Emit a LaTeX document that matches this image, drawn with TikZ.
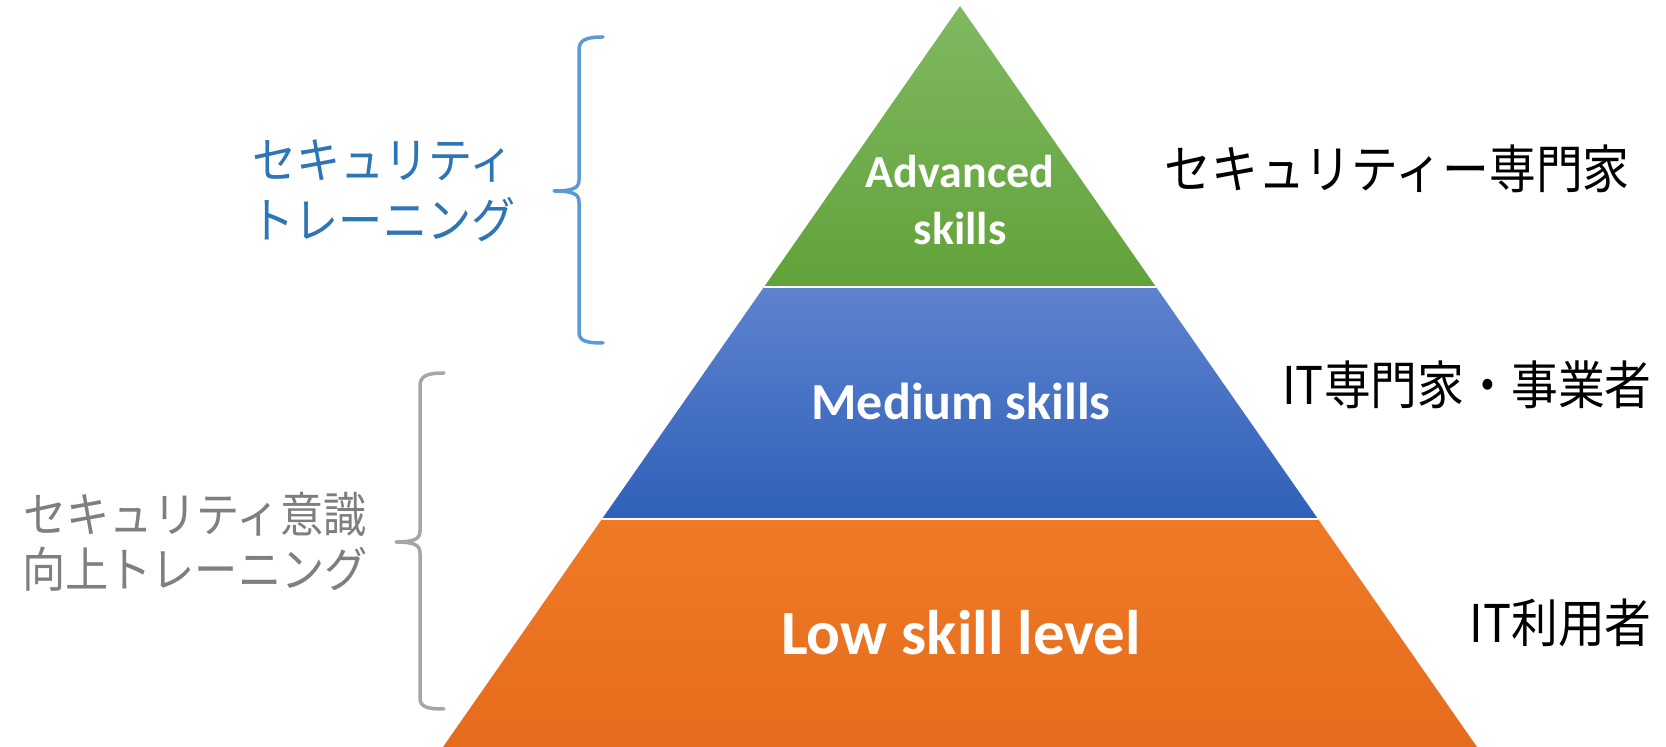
\documentclass[tikz,border=0pt]{standalone}
\usepackage{fontspec}
\setmainfont{Carlito}
\newfontfamily\jpfont[FakeStretch=0.9]{Noto Sans CJK JP}
\usepackage{xcolor}
\usepackage{tikz}
\usetikzlibrary{positioning}

\definecolor{greentop}{HTML}{80B961}
\definecolor{greenbot}{HTML}{61A239}
\definecolor{bluetop}{HTML}{5E83CE}
\definecolor{bluebot}{HTML}{2F60B8}
\definecolor{orangetop}{HTML}{EF7A26}
\definecolor{orangebot}{HTML}{E56C1C}
\definecolor{trainblue}{HTML}{2E75B6}
\definecolor{bracelight}{HTML}{5B9BD5}
\definecolor{awaregray}{HTML}{7F7F7F}
\definecolor{bracegray}{HTML}{A6A6A6}

\begin{document}
\begin{tikzpicture}[x=0.5pt, y=-0.5pt,
    layertext/.style={text=white, inner sep=0pt, font=\bfseries\fontsize{#1}{#1}\selectfont},
    jplabel/.style 2 args={inner sep=0pt, font=\jpfont\fontsize{#1}{#2}\selectfont},
    bracket/.style={line width=1.75pt, line cap=round, line join=round}]
    % Nền trắng
    \fill[white] (0,0) rectangle (1666,747);
    \useasboundingbox (0,0) rectangle (1666,747);

    % Các đỉnh của kim tự tháp
    \coordinate (apex) at (960,6);
    \coordinate (gl) at (764,287);  \coordinate (gr) at (1156,287);
    \coordinate (bl) at (602,519);  \coordinate (br) at (1318,519);
    \coordinate (baseL) at (443,747); \coordinate (baseR) at (1477,747);

    % Ba tầng
    \shade[top color=greentop, bottom color=greenbot] (apex) -- (gr) -- (gl) -- cycle;
    \shade[top color=bluetop, bottom color=bluebot] (gl) -- (gr) -- (br) -- (bl) -- cycle;
    \shade[top color=orangetop, bottom color=orangebot] (bl) -- (br) -- (baseR) -- (baseL) -- cycle;
    \draw[white, line width=1pt] (gl) -- (gr) (bl) -- (br);

    % Chữ trong các tầng
    \node[layertext=23, anchor=base] (adv) at (960,188) {Advanced};
    \node[layertext=23, anchor=base] (advskills) at (960,245) {skills};
    \node[layertext=26, anchor=base] (medium) at (961,420) {Medium skills};
    \node[layertext=31.5, anchor=base] (low) at (961,655) {Low skill level};

    % Nhãn bên phải
    \node[jplabel={26}{26}, anchor=east] (expert) at (1630,169) {セキュリティー専門家};
    \node[jplabel={26}{26}, anchor=east] (itpro) at (1652,385) {IT専門家・事業者};
    \node[jplabel={26}{26}, anchor=east] (ituser) at (1652,623) {IT利用者};

    % Ngoặc và nhãn bên trái
    \draw[bracket, bracelight] (603,37) .. controls (586,37) and (579,40) .. (579,50)
        -- (579,180) .. controls (579,188) and (573,191) .. (554,191)
        .. controls (573,191) and (579,194) .. (579,202)
        -- (579,332) .. controls (579,341) and (586,343) .. (603,343);
    \node[jplabel={24.5}{30}, text=trainblue, align=center] (sectrain) at (383,191)
        {セキュリティ\\トレーニング};

    \draw[bracket, bracegray] (444,373) .. controls (427,373) and (420,376) .. (420,386)
        -- (420,531) .. controls (420,539) and (414,542) .. (396,542)
        .. controls (414,542) and (420,545) .. (420,553)
        -- (420,698) .. controls (420,707) and (427,709) .. (444,709);
    \node[jplabel={24}{27.5}, text=awaregray, align=center] (awaretrain) at (195,542)
        {セキュリティ意識\\向上トレーニング};
\end{tikzpicture}
\end{document}
